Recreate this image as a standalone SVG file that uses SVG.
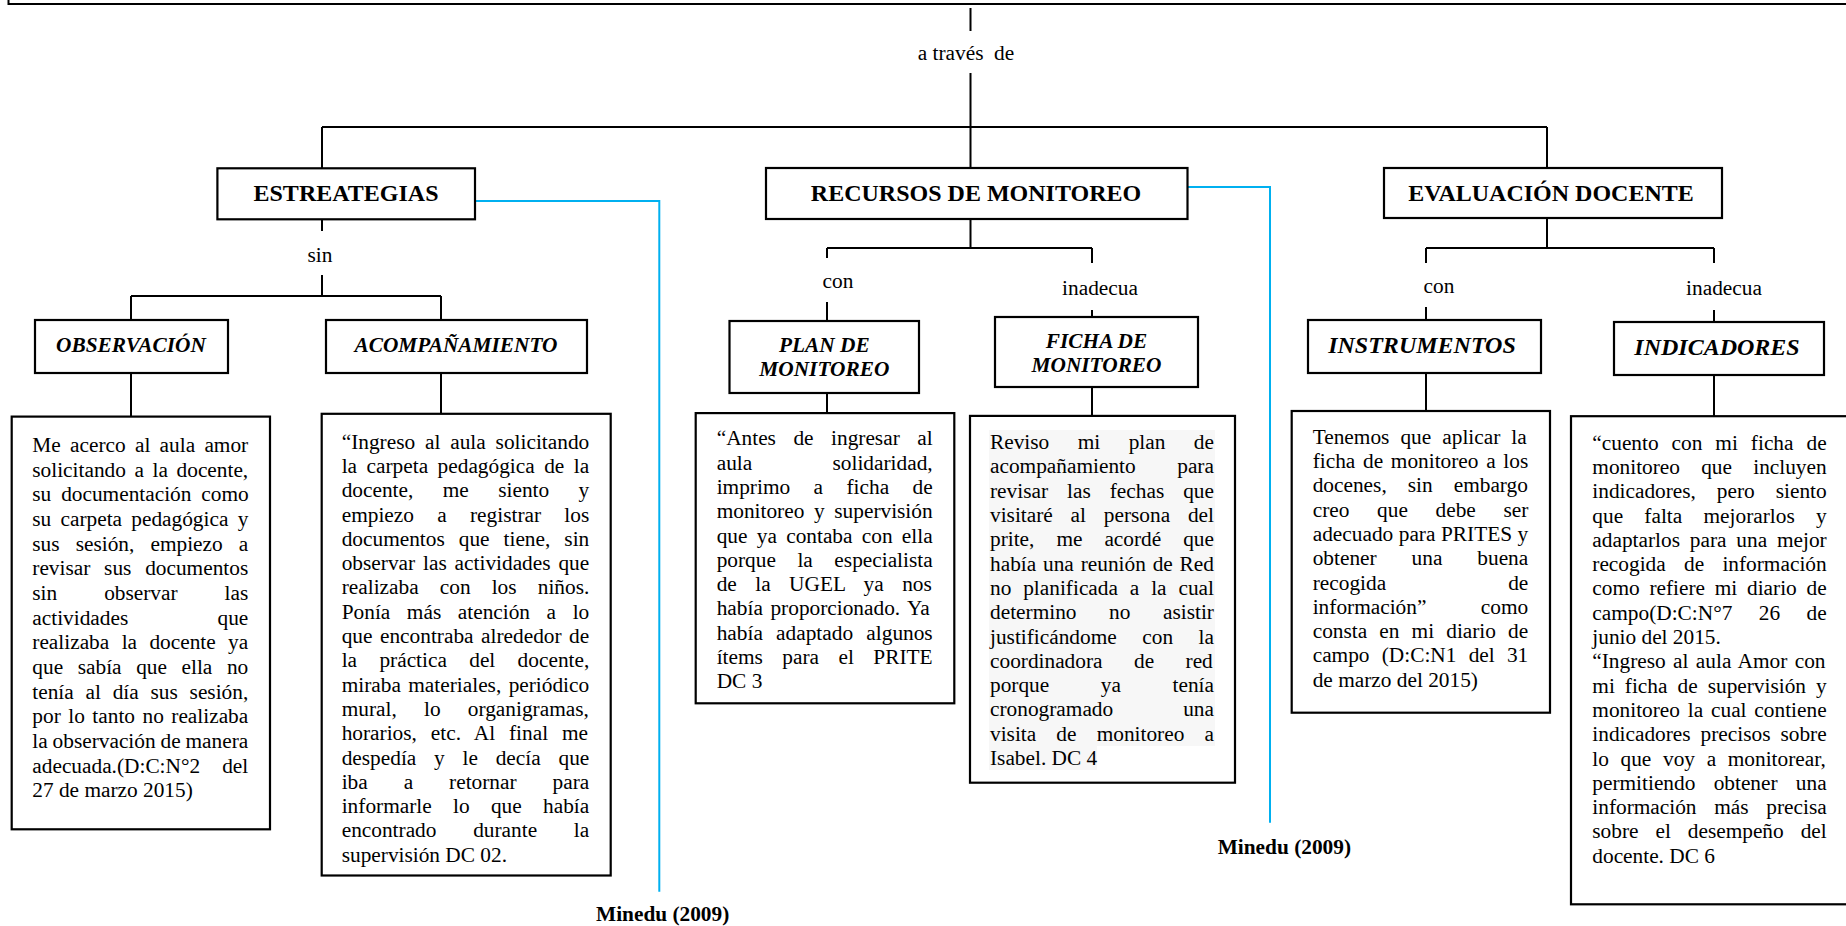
<svg xmlns="http://www.w3.org/2000/svg" width="1846" height="926" viewBox="0 0 1846 926">
<style>
.box{fill:#fff;stroke:#000;stroke-width:2.2}
.ln{fill:none;stroke:#000;stroke-width:2}
.blue{fill:none;stroke:#00B0F0;stroke-width:2}
text{font-family:"Liberation Serif","Times New Roman",serif;fill:#000}
.body{font-size:21.33px}
.h1{font-size:24px;font-weight:bold;text-anchor:middle}
.h2{font-size:21.33px;font-weight:bold;font-style:italic;text-anchor:middle}
.h3{font-size:24px;font-weight:bold;font-style:italic;text-anchor:middle}
.lbl{font-size:21.33px;text-anchor:middle}
.ref{font-size:21.33px;font-weight:bold}
</style>
<rect width="1846" height="926" fill="#fff"/>

<g id="top-box">
<path class="ln" d="M8.5,-10 V4 H1850" stroke-width="2.5"/>
</g>

<g id="connectors">
<path class="ln" d="M970.5,8 V31 M970.5,73 V168"/>
<path class="ln" d="M322,127 H1547 M322,127 V168 M1547,127 V168"/>
<path class="ln" d="M322,219 V231 M322,275 V296 M131,296 H441 M131,296 V320 M441,296 V320"/>
<path class="ln" d="M131,373 V416.6 M441,373 V413.8"/>
<path class="ln" d="M970.5,219 V248 M827,248 H1092 M827,248 V258 M827,302 V321 M1092,248 V263 M1092,310 V317"/>
<path class="ln" d="M827,393 V413 M1092,387 V416"/>
<path class="ln" d="M1547,218 V248 M1426,248 H1714 M1426,248 V263 M1426,307 V320 M1714,248 V263 M1714,310 V322"/>
<path class="ln" d="M1426,373 V411 M1714,375 V416"/>
<path class="blue" d="M475,201 H659.3 V891.7"/>
<path class="blue" d="M1187.5,187 H1270 V822.7"/>
</g>

<g id="labels">
<text class="lbl" x="966" y="60">a través&#160; de</text>
<text class="lbl" x="320" y="262">sin</text>
<text class="lbl" x="838" y="288">con</text>
<text class="lbl" x="1100" y="295">inadecua</text>
<text class="lbl" x="1439" y="293">con</text>
<text class="lbl" x="1724" y="295">inadecua</text>
</g>

<g id="estrategias">
<rect class="box" x="217.4" y="168.3" width="257.6" height="51"/>
<text class="h1" x="346" y="201">ESTREATEGIAS</text>
</g>
<g id="recursos">
<rect class="box" x="766" y="168" width="421.5" height="51"/>
<text class="h1" x="976" y="201">RECURSOS DE MONITOREO</text>
</g>
<g id="evaluacion">
<rect class="box" x="1384" y="168" width="338" height="50"/>
<text class="h1" x="1551" y="201">EVALUACIÓN DOCENTE</text>
</g>

<g id="observacion">
<rect class="box" x="35" y="320" width="193" height="53"/>
<text class="h2" x="131" y="352">OBSERVACIÓN</text>
</g>
<g id="acompanamiento">
<rect class="box" x="326" y="320" width="261" height="53"/>
<text class="h2" x="456" y="352">ACOMPAÑAMIENTO</text>
</g>
<g id="plan">
<rect class="box" x="729.5" y="321" width="189.5" height="72"/>
<text class="h2" x="824.3" y="351.7">PLAN DE</text>
<text class="h2" x="824.3" y="376">MONITOREO</text>
</g>
<g id="ficha">
<rect class="box" x="995" y="317" width="203" height="70"/>
<text class="h2" x="1096.5" y="347.7">FICHA DE</text>
<text class="h2" x="1096.5" y="371.7">MONITOREO</text>
</g>
<g id="instrumentos">
<rect class="box" x="1308" y="320" width="233" height="53"/>
<text class="h3" x="1422" y="353">INSTRUMENTOS</text>
</g>
<g id="indicadores">
<rect class="box" x="1614" y="322" width="210" height="53"/>
<text class="h3" x="1717" y="355">INDICADORES</text>
</g>

<g id="texto-observacion">
<rect class="box" x="11.7" y="416.6" width="258.3" height="412.7"/>
<text class="body">
<tspan x="32.3" y="452" style="word-spacing:3.95px">Me acerco al aula amor</tspan>
<tspan x="32.3" y="476.7" style="word-spacing:3.27px">solicitando a la docente,</tspan>
<tspan x="32.3" y="501.3" style="word-spacing:4.55px">su documentación como</tspan>
<tspan x="32.3" y="526" style="word-spacing:3.9px">su carpeta pedagógica y</tspan>
<tspan x="32.3" y="550.6" style="word-spacing:10.8px">sus sesión, empiezo a</tspan>
<tspan x="32.3" y="575.3" style="word-spacing:8.45px">revisar sus documentos</tspan>
<tspan x="32.3" y="600" style="word-spacing:41.65px">sin observar las</tspan>
<tspan x="32.3" y="624.6" style="word-spacing:83.9px">actividades que</tspan>
<tspan x="32.3" y="649.3" style="word-spacing:7.05px">realizaba la docente ya</tspan>
<tspan x="32.3" y="673.9" style="word-spacing:9.28px">que sabía que ella no</tspan>
<tspan x="32.3" y="698.6" style="word-spacing:6.45px">tenía al día sus sesión,</tspan>
<tspan x="32.3" y="723.3" style="word-spacing:2.17px">por lo tanto no realizaba</tspan>
<tspan x="32.3" y="747.9" style="word-spacing:-0.45px">la observación de manera</tspan>
<tspan x="32.3" y="772.6" style="word-spacing:16.7px">adecuada.(D:C:N°2 del</tspan>
<tspan x="32.3" y="797.3">27 de marzo 2015)</tspan>
</text>
</g>

<g id="texto-acompanamiento">
<rect class="box" x="321.7" y="413.8" width="289" height="461.7"/>
<text class="body">
<tspan x="341.7" y="448.6" style="word-spacing:4.53px">“Ingreso al aula solicitando</tspan>
<tspan x="341.7" y="472.9" style="word-spacing:4.15px">la carpeta pedagógica de la</tspan>
<tspan x="341.7" y="497.2" style="word-spacing:24.07px">docente, me siento y</tspan>
<tspan x="341.7" y="521.5" style="word-spacing:17.97px">empiezo a registrar los</tspan>
<tspan x="341.7" y="545.8" style="word-spacing:8.67px">documentos que tiene, sin</tspan>
<tspan x="341.7" y="570.1" style="word-spacing:2.57px">observar las actividades que</tspan>
<tspan x="341.7" y="594.4" style="word-spacing:15.8px">realizaba con los niños.</tspan>
<tspan x="341.7" y="618.7" style="word-spacing:11.25px">Ponía más atención a lo</tspan>
<tspan x="341.7" y="643" style="word-spacing:2.17px">que encontraba alrededor de</tspan>
<tspan x="341.7" y="667.3" style="word-spacing:17px">la práctica del docente,</tspan>
<tspan x="341.7" y="691.6" style="word-spacing:2.05px">miraba materiales, periódico</tspan>
<tspan x="341.7" y="715.9" style="word-spacing:21.9px">mural, lo organigramas,</tspan>
<tspan x="341.7" y="740.2" style="word-spacing:8.58px">horarios, etc. Al final me</tspan>
<tspan x="341.7" y="764.5" style="word-spacing:12.45px">despedía y le decía que</tspan>
<tspan x="341.7" y="788.8" style="word-spacing:30.6px">iba a retornar para</tspan>
<tspan x="341.7" y="813.1" style="word-spacing:16px">informarle lo que había</tspan>
<tspan x="341.7" y="837.4" style="word-spacing:31.4px">encontrado durante la</tspan>
<tspan x="341.7" y="861.7">supervisión DC 02.</tspan>
</text>
</g>

<g id="texto-plan">
<rect class="box" x="695.7" y="413.1" width="258.6" height="290.2"/>
<text class="body">
<tspan x="716.7" y="445.3" style="word-spacing:12.17px">“Antes de ingresar al</tspan>
<tspan x="716.7" y="469.6" style="word-spacing:75px">aula solidaridad,</tspan>
<tspan x="716.7" y="493.9" style="word-spacing:18.1px">imprimo a ficha de</tspan>
<tspan x="716.7" y="518.2" style="word-spacing:4.3px">monitoreo y supervisión</tspan>
<tspan x="716.7" y="542.5" style="word-spacing:3.95px">que ya contaba con ella</tspan>
<tspan x="716.7" y="566.8" style="word-spacing:16.2px">porque la especialista</tspan>
<tspan x="716.7" y="591.1" style="word-spacing:13.1px">de la UGEL ya nos</tspan>
<tspan x="716.7" y="615.4" style="word-spacing:2.25px">había proporcionado. Ya</tspan>
<tspan x="716.7" y="639.7" style="word-spacing:7.9px">había adaptado algunos</tspan>
<tspan x="716.7" y="664" style="word-spacing:14.13px">ítems para el PRITE</tspan>
<tspan x="716.7" y="688.3">DC 3</tspan>
</text>
</g>

<g id="texto-ficha">
<rect class="box" x="970" y="415.9" width="265" height="366.8"/>
<rect x="989" y="430" width="226" height="316" fill="#f7f7f7"/>
<rect x="989" y="746" width="108" height="24" fill="#f7f7f7"/>
<text class="body">
<tspan x="990" y="449.1" style="word-spacing:23.1px">Reviso mi plan de</tspan>
<tspan x="990" y="473.4" style="word-spacing:36.2px">acompañamiento para</tspan>
<tspan x="990" y="497.7" style="word-spacing:13.67px">revisar las fechas que</tspan>
<tspan x="990" y="522" style="word-spacing:12.47px">visitaré al persona del</tspan>
<tspan x="990" y="546.3" style="word-spacing:16.63px">prite, me acordé que</tspan>
<tspan x="990" y="570.6" style="word-spacing:1.5px">había una reunión de Red</tspan>
<tspan x="990" y="594.9" style="word-spacing:6.55px">no planificada a la cual</tspan>
<tspan x="990" y="619.2" style="word-spacing:27.28px">determino no asistir</tspan>
<tspan x="990" y="643.5" style="word-spacing:20.18px">justificándome con la</tspan>
<tspan x="990" y="667.8" style="word-spacing:26.12px">coordinadora de red</tspan>
<tspan x="990" y="692.1" style="word-spacing:46.25px">porque ya tenía</tspan>
<tspan x="990" y="716.4" style="word-spacing:64.7px">cronogramado una</tspan>
<tspan x="990" y="740.7" style="word-spacing:14.83px">visita de monitoreo a</tspan>
<tspan x="990" y="765">Isabel. DC 4</tspan>
</text>
</g>

<g id="texto-instrumentos">
<rect class="box" x="1291.7" y="411" width="258.3" height="301.7"/>
<text class="body">
<tspan x="1312.7" y="443.7" style="word-spacing:5.73px">Tenemos que aplicar la</tspan>
<tspan x="1312.7" y="468" style="word-spacing:2.35px">ficha de monitoreo a los</tspan>
<tspan x="1312.7" y="492.3" style="word-spacing:15.7px">docenes, sin embargo</tspan>
<tspan x="1312.7" y="516.6" style="word-spacing:22.33px">creo que debe ser</tspan>
<tspan x="1312.7" y="540.9" style="word-spacing:0.2px">adecuado para PRITES y</tspan>
<tspan x="1312.7" y="565.2" style="word-spacing:29.6px">obtener una buena</tspan>
<tspan x="1312.7" y="589.5" style="word-spacing:116.7px">recogida de</tspan>
<tspan x="1312.7" y="613.8" style="word-spacing:49.1px">información” como</tspan>
<tspan x="1312.7" y="638.1" style="word-spacing:6.8px">consta en mi diario de</tspan>
<tspan x="1312.7" y="662.4" style="word-spacing:6.9px">campo (D:C:N1 del 31</tspan>
<tspan x="1312.7" y="686.7">de marzo del 2015)</tspan>
</text>
</g>

<g id="texto-indicadores">
<rect class="box" x="1571" y="416.2" width="290" height="488.1"/>
<text class="body">
<tspan x="1592.3" y="449.6" style="word-spacing:7.65px">“cuento con mi ficha de</tspan>
<tspan x="1592.3" y="473.9" style="word-spacing:15.9px">monitoreo que incluyen</tspan>
<tspan x="1592.3" y="498.2" style="word-spacing:15.6px">indicadores, pero siento</tspan>
<tspan x="1592.3" y="522.5" style="word-spacing:15.93px">que falta mejorarlos y</tspan>
<tspan x="1592.3" y="546.8" style="word-spacing:4.5px">adaptarlos para una mejor</tspan>
<tspan x="1592.3" y="571.1" style="word-spacing:12.95px">recogida de información</tspan>
<tspan x="1592.3" y="595.4" style="word-spacing:4.4px">como refiere mi diario de</tspan>
<tspan x="1592.3" y="619.7" style="word-spacing:21.1px">campo(D:C:N°7 26 de</tspan>
<tspan x="1592.3" y="644">junio del 2015.</tspan>
<tspan x="1592.3" y="668.3" style="word-spacing:2.03px">“Ingreso al aula Amor con</tspan>
<tspan x="1592.3" y="692.6" style="word-spacing:4.7px">mi ficha de supervisión y</tspan>
<tspan x="1592.3" y="716.9" style="word-spacing:2.5px">monitoreo la cual contiene</tspan>
<tspan x="1592.3" y="741.2" style="word-spacing:4.65px">indicadores precisos sobre</tspan>
<tspan x="1592.3" y="765.5" style="word-spacing:6.32px">lo que voy a monitorear,</tspan>
<tspan x="1592.3" y="789.8" style="word-spacing:12.95px">permitiendo obtener una</tspan>
<tspan x="1592.3" y="814.1" style="word-spacing:12.35px">información más precisa</tspan>
<tspan x="1592.3" y="838.4" style="word-spacing:11.6px">sobre el desempeño del</tspan>
<tspan x="1592.3" y="862.7">docente. DC 6</tspan>
</text>
</g>

<g id="referencias">
<text class="ref" x="596" y="921">Minedu (2009)</text>
<text class="ref" x="1217.7" y="854">Minedu (2009)</text>
</g>
</svg>
